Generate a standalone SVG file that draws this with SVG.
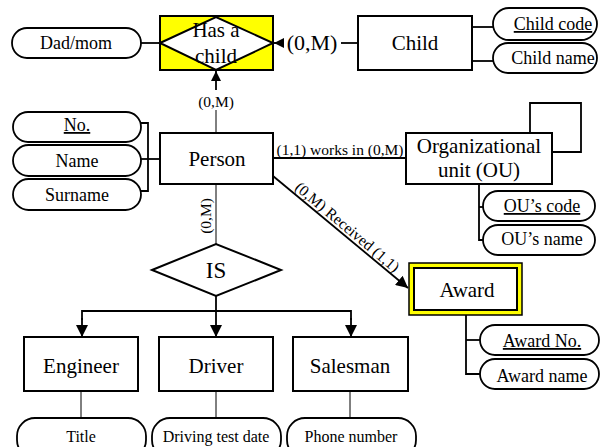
<svg xmlns="http://www.w3.org/2000/svg" width="601" height="447" viewBox="0 0 601 447" font-family="'Liberation Serif', 'Times New Roman', serif">
<style>
text{font-family:"Liberation Serif","Times New Roman",serif;fill:#000}
.box{fill:#fff;stroke:#000;stroke-width:2}
.pill{fill:#fff;stroke:#000;stroke-width:1.8}
.ln{fill:none;stroke:#000;stroke-width:1.8}
.thin{fill:none;stroke:#000;stroke-width:1}
.big{font-size:21px}
.mid{font-size:18px}
.sm{font-size:16px}
.lbl{font-size:15.5px}
</style>
<defs>
<marker id="ah" viewBox="0 0 10 10" refX="10" refY="5" markerWidth="10" markerHeight="10" markerUnits="userSpaceOnUse" orient="auto">
<path d="M0,0 L10,5 L0,10 z" fill="#000"/>
</marker>
<marker id="ahb" viewBox="0 0 10 10" refX="10" refY="5" markerWidth="12" markerHeight="12" markerUnits="userSpaceOnUse" orient="auto">
<path d="M0,0 L10,5 L0,10 z" fill="#000"/>
</marker>
</defs>

<g id="connectors">
<line class="ln" x1="141" y1="43" x2="160" y2="43"/>
<line class="ln" x1="284" y1="43" x2="274" y2="43" marker-end="url(#ah)"/>
<line class="ln" x1="341" y1="43" x2="358" y2="43"/>
<line class="ln" x1="216" y1="90" x2="216" y2="71" marker-end="url(#ah)"/>
<line class="thin" x1="216" y1="110" x2="216" y2="133"/>
<polyline class="ln" points="472,27 493,27"/>
<polyline class="ln" points="472,61 493,61"/>
<polyline class="ln" points="141,123 148,123 148,191 141,191"/>
<line class="ln" x1="141" y1="159" x2="160" y2="159"/>
<line class="ln" x1="273" y1="158" x2="406" y2="158"/>
<polyline class="ln" points="530,133 530,103 581,103 581,152 552,152"/>
<polyline class="ln" points="479,184 479,240 483,240"/>
<line class="ln" x1="479" y1="207" x2="483" y2="207"/>
<line class="thin" x1="216" y1="184" x2="216" y2="244"/>
<line class="ln" x1="273" y1="176" x2="408" y2="288" marker-end="url(#ahb)"/>
<line class="ln" x1="216" y1="296" x2="216" y2="311"/>
<polyline class="ln" points="82,320 82,311 351,311 351,320"/>
<line class="ln" x1="82" y1="318" x2="82" y2="337" marker-end="url(#ahb)"/>
<line class="ln" x1="216" y1="311" x2="216" y2="337" marker-end="url(#ahb)"/>
<line class="ln" x1="351" y1="318" x2="351" y2="337" marker-end="url(#ahb)"/>
<polyline class="ln" points="466,315 466,374 480,374"/>
<line class="ln" x1="466" y1="340" x2="480" y2="340"/>
<line class="thin" x1="81" y1="391" x2="81" y2="418"/>
<line class="thin" x1="216" y1="391" x2="216" y2="418"/>
<line class="thin" x1="350" y1="391" x2="350" y2="418"/>
<text x="312" y="50" font-size="22" text-anchor="middle">(0,M)</text>
<text class="lbl" x="216" y="107" font-size="16" text-anchor="middle">(0,M)</text>
<text class="lbl" x="340" y="155" text-anchor="middle">(1,1) works in (0,M)</text>
<text class="lbl" transform="translate(211,216) rotate(-90)" text-anchor="middle">(0,M)</text>
<text class="lbl" transform="translate(344,231) rotate(40)" text-anchor="middle">(0,M) Received (1,1)</text>
</g>

<g id="dadmom"><rect class="pill" x="12" y="28" width="129" height="30" rx="15"/><text class="mid" x="76" y="49" text-anchor="middle">Dad/mom</text></g>

<g id="has-a-child">
<rect x="160" y="16" width="113" height="54" fill="#ffff00" stroke="#000" stroke-width="2"/>
<polygon points="160,43 216,17 273,43 216,70" fill="#fff" stroke="#000" stroke-width="2"/>
<text class="big" x="216" y="37" text-anchor="middle">Has a</text>
<text class="big" x="216" y="63" text-anchor="middle">child</text>
</g>

<g id="child"><rect class="box" x="358" y="16" width="114" height="54"/><text class="big" x="415" y="50" text-anchor="middle">Child</text></g>
<g id="child-code"><rect class="pill" x="493" y="8" width="104" height="32" rx="16"/><text class="mid" x="553" y="30" text-anchor="middle" text-decoration="underline">Child code</text></g>
<g id="child-name"><rect class="pill" x="493" y="43" width="104" height="30" rx="15"/><text class="mid" x="553" y="64" text-anchor="middle">Child name</text></g>

<g id="no"><rect class="pill" x="13" y="112" width="128" height="30" rx="15"/><text class="mid" x="77" y="131" text-anchor="middle" text-decoration="underline">No.</text></g>
<g id="name"><rect class="pill" x="13" y="145" width="128" height="31" rx="15.5"/><text class="mid" x="77" y="167" text-anchor="middle">Name</text></g>
<g id="surname"><rect class="pill" x="13" y="179" width="128" height="31" rx="15.5"/><text class="mid" x="77" y="201" text-anchor="middle">Surname</text></g>

<g id="person"><rect class="box" x="160" y="133" width="113" height="51"/><text class="big" x="217" y="166" text-anchor="middle">Person</text></g>

<g id="ou"><rect class="box" x="406" y="133" width="146" height="51"/>
<text class="big" x="479" y="153" text-anchor="middle">Organizational</text>
<text class="big" x="479" y="177" text-anchor="middle">unit (OU)</text></g>
<g id="ou-code"><rect class="pill" x="483" y="191" width="112" height="30" rx="15"/><text class="mid" x="542" y="212" text-anchor="middle" text-decoration="underline">OU’s code</text></g>
<g id="ou-name"><rect class="pill" x="483" y="225" width="112" height="30" rx="15"/><text class="mid" x="542" y="245" text-anchor="middle">OU’s name</text></g>

<g id="is"><polygon points="152,270 216,244 281,270 216,296" fill="#fff" stroke="#000" stroke-width="2"/><text x="216" y="278" font-size="23" text-anchor="middle">IS</text></g>

<g id="award">
<rect x="409" y="263" width="113" height="52" fill="#ffff00" stroke="#000" stroke-width="1.5"/>
<rect class="box" x="414" y="268" width="103" height="42"/>
<text class="big" x="467" y="297" text-anchor="middle">Award</text>
</g>
<g id="award-no"><rect class="pill" x="480" y="325" width="119" height="30" rx="15"/><text class="mid" x="542" y="347" text-anchor="middle" text-decoration="underline">Award No.</text></g>
<g id="award-name"><rect class="pill" x="480" y="359" width="119" height="30" rx="15"/><text class="mid" x="542" y="382" text-anchor="middle">Award name</text></g>

<g id="engineer"><rect class="box" x="24" y="337" width="114" height="54"/><text class="big" x="81" y="373" text-anchor="middle">Engineer</text></g>
<g id="driver"><rect class="box" x="159" y="337" width="114" height="54"/><text class="big" x="216" y="373" text-anchor="middle">Driver</text></g>
<g id="salesman"><rect class="box" x="293" y="337" width="115" height="54"/><text class="big" x="350" y="373" text-anchor="middle">Salesman</text></g>

<g id="title"><rect class="pill" x="17" y="418" width="129" height="40" rx="18"/><text class="sm" x="81" y="442" text-anchor="middle">Title</text></g>
<g id="driving-test-date"><rect class="pill" x="152" y="418" width="129" height="40" rx="18"/><text class="sm" x="216" y="442" text-anchor="middle">Driving test date</text></g>
<g id="phone-number"><rect class="pill" x="287" y="418" width="129" height="40" rx="18"/><text class="sm" x="351" y="442" text-anchor="middle">Phone number</text></g>
</svg>
